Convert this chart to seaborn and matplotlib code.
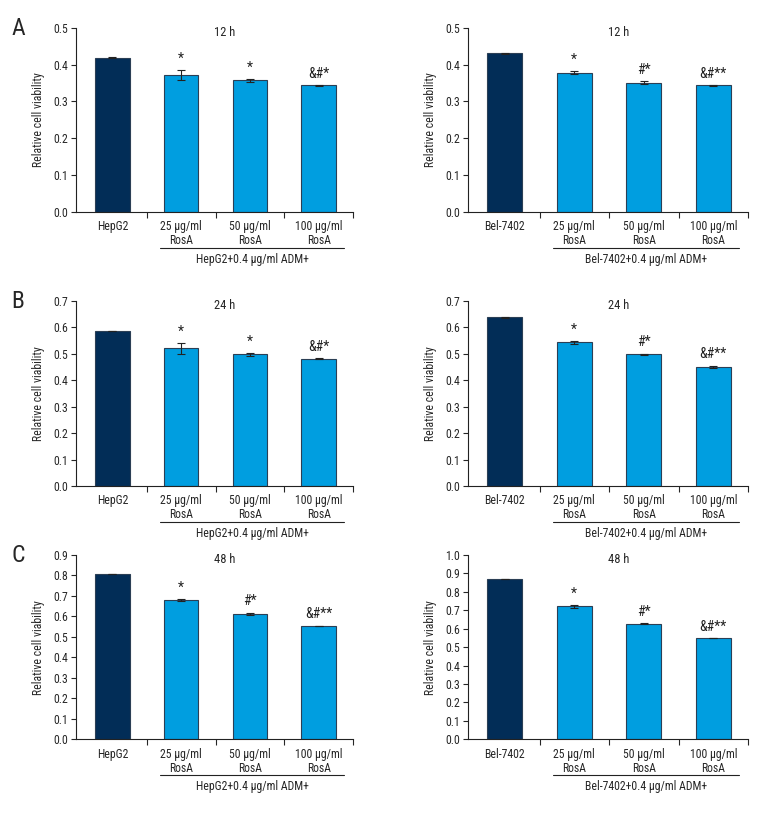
import matplotlib
matplotlib.use("Agg")
import matplotlib.pyplot as plt
import matplotlib.transforms as mtransforms
from matplotlib import font_manager
import seaborn as sns
import pandas as pd
import numpy as np

sns.set_style("white")

# choose a condensed face if one is installed
_names = {f.name for f in font_manager.fontManager.ttflist}
_cands = ["Liberation Sans Narrow", "Roboto Condensed", "Open Sans Condensed", "DejaVu Sans"]
_fam = [n for n in _cands if n in _names] or ["DejaVu Sans"]
plt.rcParams['font.family'] = _fam + ['DejaVu Sans']
plt.rcParams['font.stretch'] = 'condensed'

# ---------------- data ----------------
dose_labels = ["25 μg/ml\nRosA", "50 μg/ml\nRosA", "100 μg/ml\nRosA"]

hep_cats = ["HepG2"] + dose_labels
bel_cats = ["Bel-7402"] + dose_labels

hep_12_vals = [0.419, 0.371, 0.357, 0.343]
hep_12_errs = [0.001, 0.013, 0.004, 0.001]
hep_12_sig = ["", "*", "*", "&#*"]

bel_12_vals = [0.430, 0.378, 0.351, 0.343]
bel_12_errs = [0.001, 0.003, 0.005, 0.001]
bel_12_sig = ["", "*", "#*", "&#**"]

hep_24_vals = [0.585, 0.520, 0.497, 0.481]
hep_24_errs = [0.001, 0.020, 0.005, 0.002]
hep_24_sig = ["", "*", "*", "&#*"]

bel_24_vals = [0.637, 0.543, 0.498, 0.451]
bel_24_errs = [0.002, 0.005, 0.002, 0.004]
bel_24_sig = ["", "*", "#*", "&#**"]

hep_48_vals = [0.806, 0.678, 0.614, 0.553]
hep_48_errs = [0.001, 0.005, 0.005, 0.002]
hep_48_sig = ["", "*", "#*", "&#**"]

bel_48_vals = [0.871, 0.721, 0.628, 0.549]
bel_48_errs = [0.001, 0.007, 0.003, 0.001]
bel_48_sig = ["", "*", "#*", "&#**"]

titles = ["12 h", "24 h", "48 h"]
ymaxes_left = [0.5, 0.7, 0.9]
ymaxes_right = [0.5, 0.7, 1.0]
group_labels = ["HepG2+0.4 μg/ml ADM+", "Bel-7402+0.4 μg/ml ADM+"]
panel_letters = ["A", "B", "C"]

dark = "#022d57"
light = "#009ee0"
edge = "#2b3f55"

W, H = 780, 816
fig = plt.figure(figsize=(W / 100, H / 100), dpi=100)

cols = [(76, 353), (468, 748)]
rows = [(27.7, 211.7), (300.7, 486.0), (555.0, 739.3)]

panels = [
    [(hep_cats, hep_12_vals, hep_12_errs, hep_12_sig), (bel_cats, bel_12_vals, bel_12_errs, bel_12_sig)],
    [(hep_cats, hep_24_vals, hep_24_errs, hep_24_sig), (bel_cats, bel_24_vals, bel_24_errs, bel_24_sig)],
    [(hep_cats, hep_48_vals, hep_48_errs, hep_48_sig), (bel_cats, bel_48_vals, bel_48_errs, bel_48_sig)],
]

fs = 8.5
for r, (top, bot) in enumerate(rows):
    for c, (l, rr) in enumerate(cols):
        cats, vals, errs, sig = panels[r][c]
        ax = fig.add_axes([l / W, 1 - bot / H, (rr - l) / W, (bot - top) / H])
        df = pd.DataFrame({"group": cats, "value": vals})
        sns.barplot(data=df, x="group", y="value", hue="group",
                    palette=[dark, light, light, light], legend=False, saturation=1,
                    width=0.5, edgecolor=edge, linewidth=0.8, ax=ax,
                    errorbar=None)
        xs = np.arange(len(cats))
        ax.errorbar(xs, vals, yerr=errs, fmt="none", ecolor="#222222",
                    elinewidth=0.8, capsize=3, capthick=0.8)
        for x, v, e, s in zip(xs, vals, errs, sig):
            if s:
                ax.annotate(s, (x, v + e), xytext=(0, 3), textcoords="offset points",
                            ha="center", va="bottom", fontsize=10, color="#222222")
        ymax = ymaxes_left[r] if c == 0 else ymaxes_right[r]
        ticks = np.arange(0, ymax + 1e-6, 0.1)
        ax.set_ylim(0, ymax)
        ax.set_xlim(-0.53, 3.5)
        ax.set_yticks(ticks)
        ax.set_yticklabels([f"{t:.1f}" for t in ticks], fontsize=fs)
        ax.set_xticks(xs)
        ax.set_xticklabels(cats, fontsize=fs, linespacing=1.1)
        ax.set_xticks([0.5, 1.5, 2.5, 3.5], minor=True)
        ax.tick_params(axis="x", which="major", length=0, pad=6)
        ax.tick_params(axis="x", which="minor", length=4, width=0.8, direction="out", bottom=True)
        ax.tick_params(axis="y", length=3.5, width=0.8, direction="out", left=True, pad=2)
        ax.set_xlabel("")
        ax.set_ylabel("Relative cell viability", fontsize=fs, labelpad=6)
        for sp in ["top", "right"]:
            ax.spines[sp].set_visible(False)
        for sp in ["left", "bottom"]:
            ax.spines[sp].set_linewidth(0.8)
            ax.spines[sp].set_color("#222222")
        ax.text(0.538, 0.975, titles[r], transform=ax.transAxes, ha="center", va="center",
                fontsize=fs + 0.5)
        trans = mtransforms.blended_transform_factory(ax.transData, ax.transAxes)
        ax.plot([0.69, 3.37], [-0.196, -0.196], transform=trans, color="#222222",
                lw=0.8, clip_on=False)
        ax.text(2.03, -0.258, group_labels[c], transform=trans, ha="center", va="center",
                fontsize=fs)
    fig.text(18 / W, 1 - (top + 1) / H, panel_letters[r], fontsize=17, ha="center", va="center")

fig.savefig("out.png", dpi=100)
